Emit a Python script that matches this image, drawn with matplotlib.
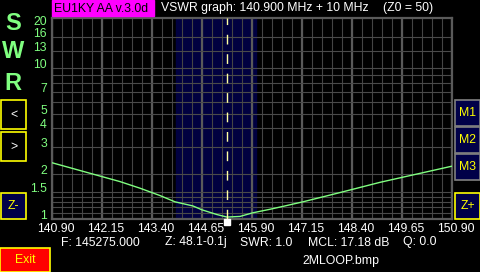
import matplotlib
matplotlib.use("Agg")
import matplotlib.pyplot as plt
from matplotlib.patches import Rectangle
from matplotlib.transforms import Affine2D, ScaledTranslation

plt.rcParams["font.family"] = ["Liberation Sans", "DejaVu Sans"]

# Data
freq = [140.90, 142.60, 143.10, 143.60, 143.975, 144.425, 144.65, 145.025, 145.275,
        145.60, 145.925, 146.35, 146.60, 147.175, 148.025, 149.10, 149.925, 150.90]
swr = [2.36, 1.77, 1.60, 1.43, 1.30, 1.22, 1.15, 1.07, 1.03,
       1.04, 1.10, 1.16, 1.20, 1.30, 1.48, 1.75, 1.96, 2.24]
f_start = 140.90
f_span = 10.0
band = (144.0, 146.0)
cursor_f = 145.275
x_ticks = [140.90, 142.15, 143.40, 144.65, 145.90, 147.15, 148.40, 149.65, 150.90]
y_grid = [1.1, 1.2, 1.3, 1.4, 1.5, 2, 3, 4, 5, 6, 7, 8, 9, 10, 13, 16]
y_labels = [1, 1.5, 2, 3, 4, 5, 7, 10, 13, 16, 20]
info = ["F: 145275.000", "Z: 48.1-0.1j", "SWR: 1.0", "MCL: 17.18 dB", "Q: 0.0"]
info_x = [61, 165, 240, 308, 403]

W, H = 480, 272
GREEN = "#80ff80"
NAVY = "#000048"
YEL = "#ffff00"
FS = 8.8

fig = plt.figure(figsize=(W / 100, H / 100), dpi=100, facecolor="black")
# pixel coords, origin top-left
pix = Affine2D().scale(1 / W, -1 / H).translate(0, 1) + fig.transFigure

ax = fig.add_axes([52 / W, (H - 219) / H, 400 / W, 201 / H])
ax.set_facecolor("black")
ax.set_yscale("log")
ax.set_xlim(f_start, f_start + f_span)
ax.set_ylim(1, 21.5)

# band highlight
ax.axvspan(band[0], band[1], color="#000040", zorder=0)

# grid
minor_x = [f_start + 0.25 * i for i in range(41)]
for f in minor_x:
    ax.axvline(f, color="#444444", lw=0.8, zorder=1)
for f in x_ticks:
    ax.axvline(f, color="#5a5a5a", lw=1.6, zorder=1)
for v in y_grid:
    ax.axhline(v, color="#4a4a4a", lw=0.8, zorder=1)
for s in ax.spines.values():
    s.set_color("#5a5a5a")
    s.set_linewidth(1.6)

ax.set_yticks([])
ax.set_yticks([], minor=True)
ax.set_xticks(x_ticks)
ax.set_xticklabels([f"{t:.2f}" for t in x_ticks], color="white", fontsize=FS)
ax.tick_params(axis="x", length=0, pad=3)
for lab in ax.get_xticklabels():
    lab.set_transform(lab.get_transform() + ScaledTranslation(3.5 / 100, 0, fig.dpi_scale_trans))

# SWR curve
ax.plot(freq, swr, color=GREEN, lw=1.0, zorder=3)

# cursor
ax.axvline(cursor_f, color="#ffffa0", lw=1.0, dashes=(7, 7), zorder=4)
ax.plot([cursor_f], [1], marker="s", ms=4, color="white", clip_on=False, zorder=5,
        transform=ax.transData + ScaledTranslation(0, -3 / 100, fig.dpi_scale_trans))

# y labels, text sits on its grid line
ytr = ax.get_yaxis_transform()
for v in y_labels:
    txt = f"{v:g}"
    if v == 20:
        fig.text(47, 25, txt, transform=pix, ha="right", va="baseline",
                 color=GREEN, fontsize=FS)
    else:
        ax.text(-0.0125, v, txt, transform=ytr, ha="right", va="baseline",
                color=GREEN, fontsize=FS)

# header
fig.add_artist(Rectangle((52, 0), 102, 16, transform=pix, color="#ff00ff"))
fig.text(54, 8.5, "EU1KY AA v.3.0d", transform=pix, color="black", fontsize=FS, va="center")
fig.text(161, 8.5, "VSWR graph: 140.900 MHz + 10 MHz", transform=pix, color="white",
         fontsize=FS, va="center")
fig.text(383, 8.5, "(Z0 = 50)", transform=pix, color="white", fontsize=FS, va="center")

# S W R letters
for ch, y in zip("SWR", [24, 51, 83]):
    fig.text(13, y, ch, transform=pix, color=GREEN, fontsize=17, fontweight="bold",
             ha="center", va="center")


def button(x, y, w, h, label, face, edge, tcolor, size=FS):
    fig.add_artist(Rectangle((x, y), w, h, transform=pix, facecolor=face,
                             edgecolor=edge, lw=1.2))
    fig.text(x + w / 2, y + h / 2, label, transform=pix, color=tcolor, fontsize=size,
             ha="center", va="center")


button(1, 100, 25, 29, "<", "black", YEL, "white")
button(1, 132, 25, 29, ">", "black", YEL, "white")
button(1, 193, 25, 26, "Z-", NAVY, YEL, YEL)
button(455, 100, 25, 26, "M1", NAVY, "#808080", YEL)
button(455, 127, 25, 26, "M2", NAVY, "#808080", YEL)
button(455, 154, 25, 26, "M3", NAVY, "#808080", YEL)
button(455, 193, 25, 26, "Z+", NAVY, YEL, YEL)
button(0, 248, 50, 24, "Exit", "#ff0000", YEL, YEL)

# info line
for t, x in zip(info, info_x):
    fig.text(x, 242.5, t, transform=pix, color="white", fontsize=FS, va="center")
fig.text(302, 261, "2MLOOP.bmp", transform=pix, color="white", fontsize=FS, va="center")

fig.savefig("out.png", dpi=100, facecolor="black")
